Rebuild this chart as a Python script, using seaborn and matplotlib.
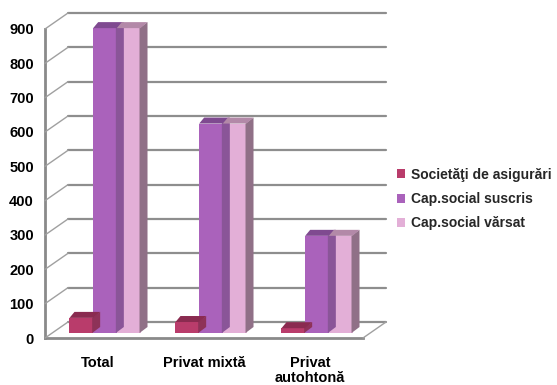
import matplotlib
matplotlib.use("Agg")
import matplotlib.pyplot as plt
from matplotlib.patches import Polygon, Patch
from matplotlib.lines import Line2D
from matplotlib.transforms import ScaledTranslation
import numpy as np
import pandas as pd
import seaborn as sns

# ---- data ----
categories = ["Total", "Privat mixtă", "Privat\nautohtonă"]
series_names = ["Societăţi de asigurări", "Cap.social suscris", "Cap.social vărsat"]
societati = [44, 32, 14]
cap_suscris = [888, 610, 283]
cap_varsat = [888, 610, 283]
y_ticks = [0, 100, 200, 300, 400, 500, 600, 700, 800, 900]

front_colors = ["#B93C6B", "#AA62BB", "#E3AFD7"]
top_colors = ["#8A2B50", "#7F4A90", "#B389A8"]
side_colors = ["#8E3258", "#8A5598", "#907087"]

sns.set_theme(style="white")
plt.rcParams["font.family"] = ["Liberation Sans", "DejaVu Sans"]
plt.rcParams["font.weight"] = "bold"

W, H, DPI = 557, 385, 100
fig = plt.figure(figsize=(W / DPI, H / DPI), dpi=DPI)
# axes = front plane of the 3D box
ax = fig.add_axes([45 / W, 47 / H, 318 / W, 309 / H])
ax.set_xlim(-0.5, 2.5)
ax.set_ylim(0, 900)

df = pd.DataFrame({
    "cat": categories * 3,
    "series": [series_names[0]] * 3 + [series_names[1]] * 3 + [series_names[2]] * 3,
    "val": societati + cap_suscris + cap_varsat,
})
sns.barplot(data=df, x="cat", y="val", hue="series", hue_order=series_names,
            order=categories, palette=front_colors, saturation=1, width=0.67,
            gap=0, legend=False, linewidth=0, ax=ax)
ax.set_xlim(-0.5, 2.5)
ax.set_ylim(0, 900)

grid_c = "#8E8E8E"
# depth of the box and of the bars (pixels)
BX, BY = 23, 16
bar_shift = ScaledTranslation(7 / DPI, 5 / DPI, fig.dpi_scale_trans)
back_shift = ScaledTranslation(BX / DPI, BY / DPI, fig.dpi_scale_trans)

# back wall gridlines
for t in y_ticks:
    ax.plot([-0.5, 2.5], [t, t], color=grid_c, lw=1.6, zorder=0.5,
            transform=ax.transData + back_shift, clip_on=False)

# left wall diagonals and floor right edge
for t in y_ticks:
    p = ax.transData.transform((-0.5, t))
    fig.add_artist(Line2D([p[0], p[0] + BX], [p[1], p[1] + BY], color="#A0A0A0",
                          lw=1.0, transform=None, zorder=0.6))
pr = ax.transData.transform((2.5, 0))
fig.add_artist(Line2D([pr[0], pr[0] + BX], [pr[1], pr[1] + BY], color="#A0A0A0",
                      lw=1.0, transform=None, zorder=0.6))

# bars: shift into the box and add top / side faces
DX, DY = 7, 6
patches = sorted(ax.patches, key=lambda p: p.get_x())
for i, p in enumerate(patches):
    fc = p.get_facecolor()
    idx = int(np.argmin([np.abs(np.array(matplotlib.colors.to_rgba(c)) - fc).sum()
                         for c in front_colors]))
    p.set_transform(ax.transData + bar_shift)
    p.set_clip_on(False)
    z = 2 + i * 0.01
    p.set_zorder(z)
    x0, y0 = ax.transData.transform((p.get_x(), p.get_y()))
    x1, y1 = ax.transData.transform((p.get_x() + p.get_width(), p.get_y() + p.get_height()))
    x0 += 7; x1 += 7; y0 += 5; y1 += 5
    top = Polygon([(x0, y1), (x1, y1), (x1 + DX, y1 + DY), (x0 + DX - 2, y1 + DY)],
                  closed=True, facecolor=top_colors[idx], edgecolor="none",
                  transform=None, zorder=z - 0.001)
    side = Polygon([(x1 - 1, y0), (x1 - 1, y1), (x1 + DX, y1 + DY), (x1 + DX, y0 + DY)],
                   closed=True, facecolor=side_colors[idx], edgecolor="none",
                   transform=None, zorder=z - 0.002)
    fig.add_artist(top)
    fig.add_artist(side)

# front axes
for s in ["top", "right"]:
    ax.spines[s].set_visible(False)
for s in ["left", "bottom"]:
    ax.spines[s].set_color("#8A8A8A")
    ax.spines[s].set_linewidth(2)
ax.set_yticks(y_ticks)
ax.set_yticklabels([str(t) for t in y_ticks])
ax.set_xticks([-0.5, 0.5, 1.5, 2.5], minor=True)
ax.set_xticks([0, 1, 2])
ax.set_xticklabels(categories, linespacing=1.05)
ax.tick_params(axis="x", which="major", length=0, pad=13, labelsize=10.5)
ax.tick_params(axis="x", which="minor", length=5, width=1.2, color="#8A8A8A", direction="out")
ax.tick_params(axis="y", length=5, width=1.2, color="#8A8A8A", direction="out", pad=3, labelsize=10.5)
for lab in ax.get_xticklabels() + ax.get_yticklabels():
    lab.set_fontweight("bold")
    lab.set_color("black")
ax.set_xlabel("")
ax.set_ylabel("")
ax.patch.set_alpha(0)

handles = [Patch(facecolor=c, edgecolor="none") for c in front_colors]
leg = fig.legend(handles, series_names, loc="center left",
                 bbox_to_anchor=(397 / W, 1 - 199 / H), bbox_transform=fig.transFigure,
                 frameon=False, handlelength=0.6, handleheight=0.6, handletextpad=0.4,
                 labelspacing=0.75, borderpad=0, borderaxespad=0,
                 prop={"family": "Liberation Sans", "weight": "bold", "size": 10})

fig.savefig("out.png", dpi=DPI)
